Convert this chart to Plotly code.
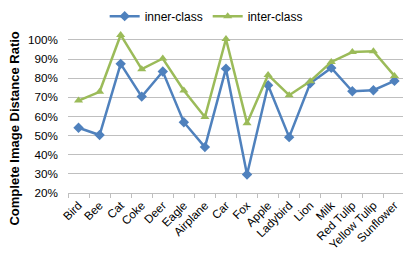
import plotly.graph_objects as go

categories = ["Bird", "Bee", "Cat", "Coke", "Deer", "Eagle", "Airplane", "Car", "Fox",
              "Apple", "Ladybird", "Lion", "Milk", "Red Tulip", "Yellow Tulip", "Sunflower"]
inner_class = [0.541, 0.503, 0.875, 0.704, 0.835, 0.570, 0.440, 0.850, 0.297,
               0.763, 0.492, 0.774, 0.854, 0.732, 0.737, 0.786]
inter_class = [0.683, 0.729, 1.026, 0.847, 0.903, 0.736, 0.597, 1.005, 0.565,
               0.817, 0.711, 0.784, 0.885, 0.937, 0.941, 0.812]
y_ticks = [0.2, 0.3, 0.4, 0.5, 0.6, 0.7, 0.8, 0.9, 1.0]
y_title = "Complete Image Distance Ratio"

font = "Liberation Sans, Arial, sans-serif"

fig = go.Figure()
fig.add_trace(go.Scatter(x=categories, y=inner_class, name="inner-class", mode="lines+markers",
                         line=dict(color="#4F81BD", width=2.5),
                         marker=dict(symbol="diamond", size=8, color="#4F81BD")))
fig.add_trace(go.Scatter(x=categories, y=inter_class, name="inter-class", mode="lines+markers",
                         line=dict(color="#9BBB59", width=2.5),
                         marker=dict(symbol="triangle-up", size=8, color="#9BBB59")))

fig.add_annotation(text="<b>" + y_title + "</b>", textangle=-90, xref="paper", yref="paper",
                   x=-0.16, y=0.396, xanchor="center", yanchor="middle", showarrow=False,
                   font=dict(size=13, family=font, color="black"))

fig.update_layout(
    width=411, height=262,
    margin=dict(l=60, r=14, t=22, b=77, autoexpand=False),
    paper_bgcolor="white", plot_bgcolor="white",
    font=dict(family=font, size=11.7, color="black"),
    showlegend=True,
    legend=dict(orientation="h", xref="paper", yref="paper", x=0.41, y=1.085,
                xanchor="center", yanchor="middle", font=dict(size=12),
                itemwidth=30, tracegroupgap=0, bgcolor="rgba(0,0,0,0)"),
    xaxis=dict(type="category", tickangle=-45, tickson="boundaries", ticks="outside",
               ticklen=4, tickcolor="#BFBFBF", showline=True, linecolor="#BFBFBF",
               showgrid=False, tickfont=dict(size=11.7), range=[-0.5, 15.5],
               automargin=False),
    yaxis=dict(range=[0.2, 1.052], tickvals=y_ticks, tickformat=".0%",
               showgrid=True, gridcolor="#BFBFBF", gridwidth=1, zeroline=False,
               showline=False, tickfont=dict(size=11.7), ticks="", automargin=False,
               ticklabelstandoff=9),
)
fig.write_html("out.html")
